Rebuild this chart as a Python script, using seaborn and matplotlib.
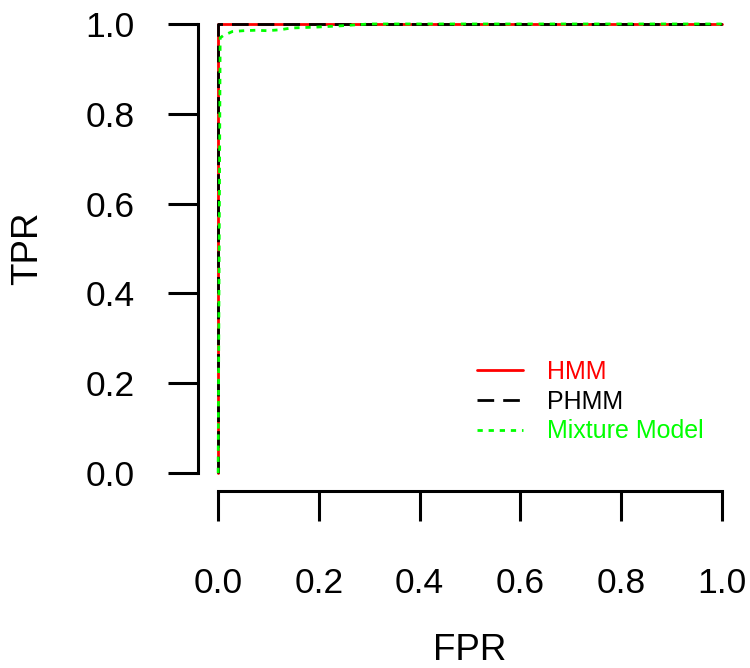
import matplotlib
matplotlib.use("Agg")
import matplotlib.pyplot as plt
import seaborn as sns
import pandas as pd

# ROC curves (false positive rate vs true positive rate)
hmm_fpr = [0.0, 0.0, 1.0]
hmm_tpr = [0.0, 1.0, 1.0]

phmm_fpr = [0.0, 0.0, 1.0]
phmm_tpr = [0.0, 1.0, 1.0]

mix_fpr = [0.0, 0.004, 0.010, 0.028, 0.050, 0.075, 0.097, 0.123, 0.145, 0.194, 0.238, 0.30, 1.0]
mix_tpr = [0.0, 0.969, 0.974, 0.983, 0.985, 0.986, 0.985, 0.987, 0.991, 0.993, 0.9955, 1.0, 1.0]

series_names = ["HMM", "PHMM", "Mixture Model"]
series_colors = ["#FF0000", "#000000", "#00FF00"]
tick_values = [0.0, 0.2, 0.4, 0.6, 0.8, 1.0]
tick_labels = ["0.0", "0.2", "0.4", "0.6", "0.8", "1.0"]

sns.set_style("white")
plt.rcParams["font.family"] = ["Liberation Sans", "DejaVu Sans"]
plt.rcParams["lines.scale_dashes"] = False

fig = plt.figure(figsize=(7.5, 6.68), dpi=100)
W, H = 750, 668
ax = fig.add_axes([198 / W, 1 - 491 / H, 544 / W, 485 / H])

curves = [
    (hmm_fpr, hmm_tpr, None),
    (phmm_fpr, phmm_tpr, (12, 6.5)),
    (mix_fpr, mix_tpr, (3.8, 4.2)),
]
for (fx, ty, dash), name, col in zip(curves, series_names, series_colors):
    df = pd.DataFrame({"FPR": fx, "TPR": ty})
    sns.lineplot(data=df, x="FPR", y="TPR", sort=False, estimator=None,
                 color=col, linewidth=2.0, label=name, ax=ax)
    line = ax.get_lines()[-1]
    if dash is not None:
        line.set_dashes(dash)

ax.set_xlim(-0.04, 1.04)
ax.set_ylim(-0.04, 1.04)

for side in ["top", "right"]:
    ax.spines[side].set_visible(False)
for side in ["left", "bottom"]:
    ax.spines[side].set_linewidth(2.2)
    ax.spines[side].set_color("black")
    ax.spines[side].set_bounds(0, 1)

ax.set_xticks(tick_values)
ax.set_xticklabels(tick_labels)
ax.set_yticks(tick_values)
ax.set_yticklabels(tick_labels)
ax.tick_params(axis="both", direction="out", length=21.6, width=2.2,
               colors="black", labelcolor="black", labelsize=25.5,
               bottom=True, left=True)
ax.tick_params(axis="x", pad=33)
ax.tick_params(axis="y", pad=24)

ax.set_xlabel("FPR", fontsize=26.5, color="black")
ax.set_ylabel("TPR", fontsize=26.5, color="black")
ax.xaxis.label.set_va("baseline")
ax.xaxis.set_label_coords(0.5, (491 - 660) / 485)
ax.yaxis.label.set_va("center")
ax.yaxis.set_label_coords((28 - 198) / 544, 0.5)

leg = ax.legend(loc="upper left", bbox_to_anchor=((477 - 198) / 544, (491 - 360) / 485),
                frameon=False, fontsize=18, handlelength=1.84, handletextpad=0.96,
                labelspacing=0.23, borderpad=0, borderaxespad=0)
for txt, col in zip(leg.get_texts(), series_colors):
    txt.set_color(col)
for hl in leg.get_lines():
    hl.set_linewidth(2.0)

fig.savefig("out.png", dpi=100, facecolor="white")
